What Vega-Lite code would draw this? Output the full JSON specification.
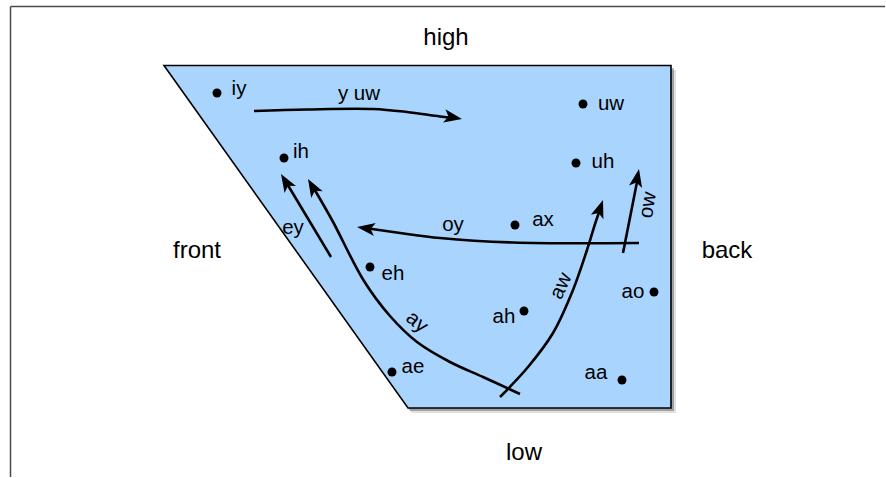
{
  "$schema": "https://vega.github.io/schema/vega-lite/v6.json",
  "width": 886,
  "height": 478,
  "autosize": {"type": "fit", "contains": "padding"},
  "padding": 0,
  "background": "white",
  "config": {"view": {"stroke": null}, "axis": {"disable": true}},
  "datasets": {
    "poly": [
      {"x": 164, "y": 65.5, "y2": 65.5},
      {"x": 408, "y": 65.5, "y2": 408},
      {"x": 671, "y": 65.5, "y2": 408}
    ],
    "shadow": [
      {"x": 168, "y": 70, "y2": 70},
      {"x": 412, "y": 70, "y2": 413},
      {"x": 676, "y": 70, "y2": 413}
    ],
    "frame": [
      {"side": "top", "o": 0, "x": 10.5, "y": 6.5},
      {"side": "top", "o": 1, "x": 885, "y": 6.5},
      {"side": "left", "o": 0, "x": 10.5, "y": 6.5},
      {"side": "left", "o": 1, "x": 10.5, "y": 477}
    ],
    "curves": [
      {"seg": "y uw", "o": 0, "x": 254, "y": 111},
      {"seg": "y uw", "o": 1, "x": 307, "y": 109.5},
      {"seg": "y uw", "o": 2, "x": 373, "y": 109},
      {"seg": "y uw", "o": 3, "x": 407, "y": 112},
      {"seg": "y uw", "o": 4, "x": 440, "y": 116.5},
      {"seg": "y uw", "o": 5, "x": 455, "y": 118},
      {"seg": "ey", "o": 0, "x": 331, "y": 257},
      {"seg": "ey", "o": 1, "x": 286, "y": 182},
      {"seg": "ay", "o": 0, "x": 520, "y": 394},
      {"seg": "ay", "o": 1, "x": 483, "y": 377},
      {"seg": "ay", "o": 2, "x": 450, "y": 362},
      {"seg": "ay", "o": 3, "x": 417, "y": 342},
      {"seg": "ay", "o": 4, "x": 390, "y": 316},
      {"seg": "ay", "o": 5, "x": 364, "y": 281},
      {"seg": "ay", "o": 6, "x": 332, "y": 220},
      {"seg": "ay", "o": 7, "x": 313, "y": 187},
      {"seg": "oy", "o": 0, "x": 639, "y": 243},
      {"seg": "oy", "o": 1, "x": 513, "y": 242.5},
      {"seg": "oy", "o": 2, "x": 440, "y": 238},
      {"seg": "oy", "o": 3, "x": 400, "y": 233},
      {"seg": "oy", "o": 4, "x": 365, "y": 228},
      {"seg": "aw", "o": 0, "x": 500, "y": 397},
      {"seg": "aw", "o": 1, "x": 528, "y": 367},
      {"seg": "aw", "o": 2, "x": 553, "y": 333},
      {"seg": "aw", "o": 3, "x": 573, "y": 290},
      {"seg": "aw", "o": 4, "x": 587, "y": 250},
      {"seg": "aw", "o": 5, "x": 596, "y": 221},
      {"seg": "aw", "o": 6, "x": 601, "y": 207},
      {"seg": "ow", "o": 0, "x": 623, "y": 253},
      {"seg": "ow", "o": 1, "x": 638, "y": 177}
    ],
    "heads": [
      {"seg": "y uw", "x": 462, "y": 119, "heading": 100},
      {"seg": "ey", "x": 281, "y": 174, "heading": -31},
      {"seg": "ay", "x": 308, "y": 179, "heading": -30},
      {"seg": "oy", "x": 357, "y": 227, "heading": -82},
      {"seg": "aw", "x": 603, "y": 200, "heading": 19},
      {"seg": "ow", "x": 639, "y": 169, "heading": 11}
    ],
    "dots": [
      {"v": "iy", "x": 217, "y": 93},
      {"v": "ih", "x": 284, "y": 158},
      {"v": "uw", "x": 583, "y": 104},
      {"v": "uh", "x": 576, "y": 163},
      {"v": "ax", "x": 515, "y": 225},
      {"v": "eh", "x": 370, "y": 267},
      {"v": "ah", "x": 524, "y": 311},
      {"v": "ao", "x": 654, "y": 292},
      {"v": "aa", "x": 622, "y": 380},
      {"v": "ae", "x": 392, "y": 372}
    ],
    "labels": [
      {"t": "iy", "x": 239, "y": 89},
      {"t": "ih", "x": 301, "y": 152},
      {"t": "uw", "x": 611, "y": 104},
      {"t": "uh", "x": 603, "y": 162},
      {"t": "ax", "x": 543, "y": 220},
      {"t": "eh", "x": 393, "y": 274},
      {"t": "ah", "x": 504, "y": 317},
      {"t": "ao", "x": 633, "y": 292},
      {"t": "aa", "x": 596, "y": 373},
      {"t": "ae", "x": 413, "y": 367},
      {"t": "y uw", "x": 359, "y": 94},
      {"t": "ey", "x": 293, "y": 228},
      {"t": "oy", "x": 453, "y": 225}
    ],
    "big": [
      {"t": "high", "x": 446, "y": 38},
      {"t": "front", "x": 197, "y": 251},
      {"t": "back", "x": 727, "y": 251},
      {"t": "low", "x": 524, "y": 453}
    ]
  },
  "encoding": {
    "x": {"field": "x", "type": "quantitative", "scale": {"domain": [0, 886], "nice": false, "zero": false}, "axis": null},
    "y": {"field": "y", "type": "quantitative", "scale": {"domain": [0, 478], "nice": false, "zero": false, "reverse": true}, "axis": null}
  },
  "layer": [
    {
      "data": {"name": "frame"},
      "mark": {"type": "line", "color": "#4a4a4a", "strokeWidth": 1.5, "clip": true},
      "encoding": {"detail": {"field": "side"}, "order": {"field": "o"}}
    },
    {
      "data": {"name": "shadow"},
      "mark": {"type": "area", "color": "#000000", "opacity": 0.12},
      "encoding": {"y2": {"field": "y2"}}
    },
    {
      "data": {"name": "shadow"},
      "transform": [{"calculate": "datum.x - 2", "as": "x"}, {"calculate": "datum.y - 2", "as": "y"}, {"calculate": "datum.y2 - 2", "as": "y2"}],
      "mark": {"type": "area", "color": "#000000", "opacity": 0.28},
      "encoding": {"y2": {"field": "y2"}}
    },
    {
      "data": {"name": "poly"},
      "mark": {"type": "area", "color": "#a9d4fd", "opacity": 1, "stroke": "#000000", "strokeWidth": 1.6, "strokeJoin": "miter"},
      "encoding": {"y2": {"field": "y2"}}
    },
    {
      "data": {"name": "curves"},
      "mark": {"type": "line", "color": "#000000", "strokeWidth": 2.6, "interpolate": "catmull-rom", "strokeCap": "butt"},
      "encoding": {"detail": {"field": "seg"}, "order": {"field": "o"}}
    },
    {
      "data": {"name": "heads"},
      "mark": {"type": "point", "shape": "M0,0L0.37,1L0,0.76L-0.37,1Z", "filled": true, "color": "#000000", "opacity": 1, "size": 1300},
      "encoding": {"angle": {"field": "heading", "type": "quantitative", "scale": null}}
    },
    {
      "data": {"name": "dots"},
      "mark": {"type": "circle", "color": "#000000", "opacity": 1, "size": 80}
    },
    {
      "data": {"name": "labels"},
      "mark": {"type": "text", "font": "Liberation Sans", "fontSize": 20.5, "color": "#000000", "align": "center", "baseline": "middle"},
      "encoding": {"text": {"field": "t"}}
    },
    {
      "data": {"values": [{"t": "ay", "x": 417, "y": 322}]},
      "mark": {"type": "text", "font": "Liberation Sans", "fontSize": 20.5, "color": "#000000", "align": "center", "baseline": "middle", "angle": 40},
      "encoding": {"text": {"field": "t"}}
    },
    {
      "data": {"values": [{"t": "aw", "x": 561, "y": 286}]},
      "mark": {"type": "text", "font": "Liberation Sans", "fontSize": 20.5, "color": "#000000", "align": "center", "baseline": "middle", "angle": -65},
      "encoding": {"text": {"field": "t"}}
    },
    {
      "data": {"values": [{"t": "ow", "x": 648, "y": 205}]},
      "mark": {"type": "text", "font": "Liberation Sans", "fontSize": 20.5, "color": "#000000", "align": "center", "baseline": "middle", "angle": -80},
      "encoding": {"text": {"field": "t"}}
    },
    {
      "data": {"name": "big"},
      "mark": {"type": "text", "font": "Liberation Sans", "fontSize": 24, "color": "#000000", "align": "center", "baseline": "middle"},
      "encoding": {"text": {"field": "t"}}
    }
  ]
}
